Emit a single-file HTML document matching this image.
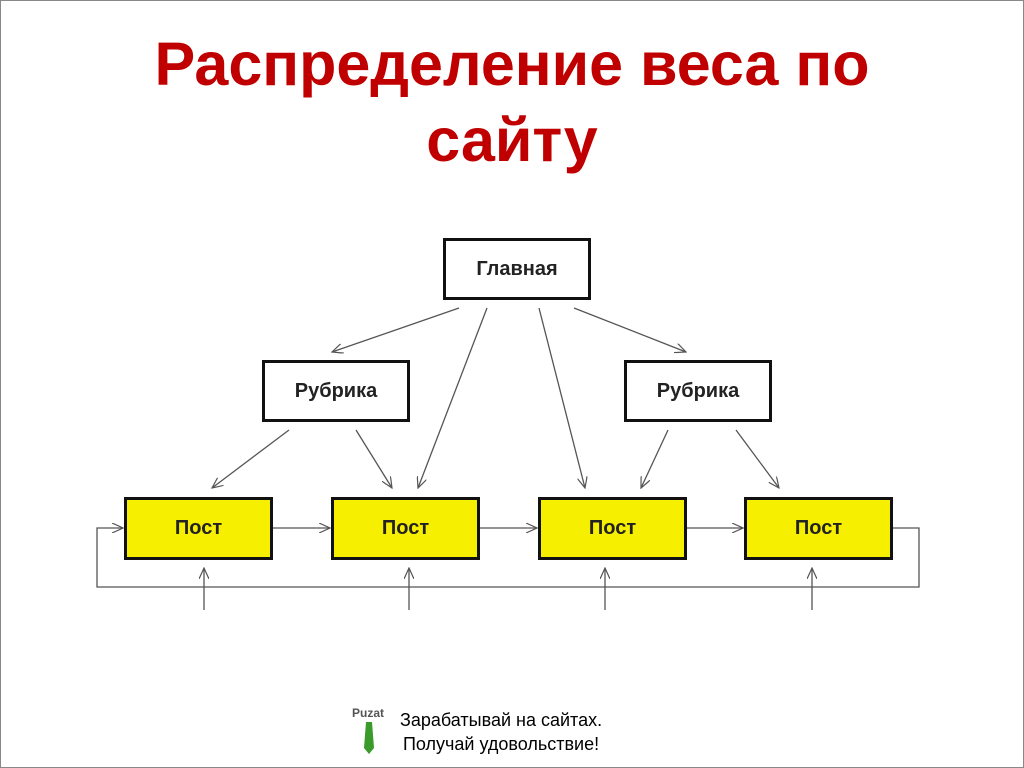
<!DOCTYPE html>
<html><head><meta charset="utf-8"><style>
body{margin:0;width:1024px;height:768px;background:#fff;overflow:hidden;font-family:"Liberation Sans",sans-serif;}
.frame{position:absolute;left:0;top:0;width:1022px;height:766px;border:1px solid #888;}
h1{position:absolute;left:0;width:1024px;top:26px;margin:0;text-align:center;color:#c00000;font-size:61px;font-weight:bold;line-height:76px;}
.b{position:absolute;box-sizing:border-box;border:3px solid #111;display:flex;align-items:center;justify-content:center;font-weight:bold;font-size:20px;color:#222;background:#fff;}
.y{background:#f7ef00;}
.ft{position:absolute;top:708px;left:400px;font-size:18px;line-height:24px;text-align:center;color:#000;}
</style></head><body>
<div class="frame"></div>
<h1>Распределение веса по<br>сайту</h1>
<svg width="1024" height="768" style="position:absolute;left:0;top:0">
<defs><marker id="a" markerWidth="12" markerHeight="10" refX="11" refY="5" orient="auto" markerUnits="userSpaceOnUse"><path d="M0,0 L11,5 L0,10" fill="none" stroke="#555" stroke-width="1.2"/></marker></defs>
<g stroke="#555" stroke-width="1.3" fill="none">
<line x1="459" y1="308" x2="332" y2="352" marker-end="url(#a)"/>
<line x1="487" y1="308" x2="418" y2="488" marker-end="url(#a)"/>
<line x1="539" y1="308" x2="585" y2="488" marker-end="url(#a)"/>
<line x1="574" y1="308" x2="686" y2="352" marker-end="url(#a)"/>
<line x1="289" y1="430" x2="212" y2="488" marker-end="url(#a)"/>
<line x1="356" y1="430" x2="392" y2="488" marker-end="url(#a)"/>
<line x1="668" y1="430" x2="641" y2="488" marker-end="url(#a)"/>
<line x1="736" y1="430" x2="779" y2="488" marker-end="url(#a)"/>
<line x1="273" y1="528" x2="330" y2="528" marker-end="url(#a)"/>
<line x1="480" y1="528" x2="537" y2="528" marker-end="url(#a)"/>
<line x1="687" y1="528" x2="743" y2="528" marker-end="url(#a)"/>
<polyline points="893,528 919,528 919,587 97,587 97,528 123,528" marker-end="url(#a)"/>
<line x1="204" y1="610" x2="204" y2="568" marker-end="url(#a)"/>
<line x1="409" y1="610" x2="409" y2="568" marker-end="url(#a)"/>
<line x1="605" y1="610" x2="605" y2="568" marker-end="url(#a)"/>
<line x1="812" y1="610" x2="812" y2="568" marker-end="url(#a)"/>
</g>
<text x="352" y="717" font-family="Liberation Sans" font-size="12" font-weight="bold" fill="#555">Puzat</text>
<path d="M366,722 L372,722 L374,748 L369,754 L364,748 Z" fill="#3a9a2a"/>
</svg>
<div class="b" style="left:443px;top:238px;width:148px;height:62px">Главная</div>
<div class="b" style="left:262px;top:360px;width:148px;height:62px">Рубрика</div>
<div class="b" style="left:624px;top:360px;width:148px;height:62px">Рубрика</div>
<div class="b y" style="left:124px;top:497px;width:149px;height:63px">Пост</div>
<div class="b y" style="left:331px;top:497px;width:149px;height:63px">Пост</div>
<div class="b y" style="left:538px;top:497px;width:149px;height:63px">Пост</div>
<div class="b y" style="left:744px;top:497px;width:149px;height:63px">Пост</div>
<div class="ft">Зарабатывай на сайтах.<br>Получай удовольствие!</div>
</body></html>
